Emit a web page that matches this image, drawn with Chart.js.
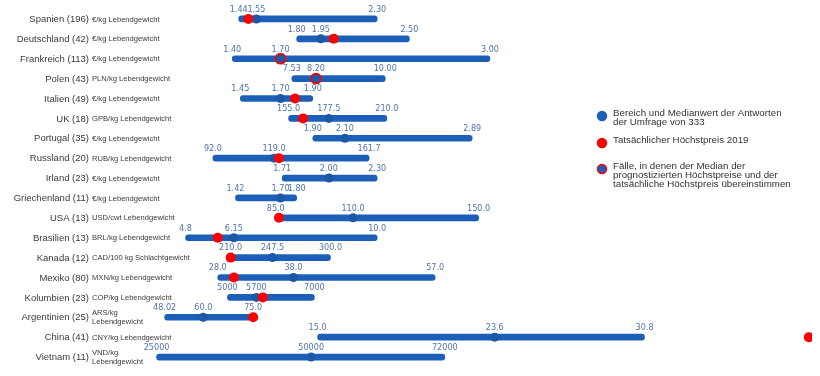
<!DOCTYPE html>
<html>
<head>
<meta charset="utf-8">
<script src="https://cdn.jsdelivr.net/npm/chart.js@4.4.1/dist/chart.umd.min.js"></script>
<style>
  body { margin: 0; background: #fff; }
  #wrap { width: 820px; height: 376px; }
</style>
</head>
<body>
<div id="wrap"><canvas id="myChart" width="820" height="376"></canvas></div>
<script>
// rows, top to bottom
const countries = ["Spanien (196)","Deutschland (42)","Frankreich (113)","Polen (43)","Italien (49)","UK (18)",
  "Portugal (35)","Russland (20)","Irland (23)","Griechenland (11)","USA (13)","Brasilien (13)","Kanada (12)",
  "Mexiko (80)","Kolumbien (23)","Argentinien (25)","China (41)","Vietnam (11)"];
const units = ["€/kg Lebendgewicht","€/kg Lebendgewicht","€/kg Lebendgewicht","PLN/kg Lebendgewicht","€/kg Lebendgewicht",
  "GPB/kg Lebendgewicht","€/kg Lebendgewicht","RUB/kg Lebendgewicht","€/kg Lebendgewicht","€/kg Lebendgewicht",
  "USD/cwt Lebendgewicht","BRL/kg Lebendgewicht","CAD/100 kg Schlachtgewicht","MXN/kg Lebendgewicht",
  "COP/kg Lebendgewicht","ARS/kg\nLebendgewicht","CNY/kg Lebendgewicht","VND/kg\nLebendgewicht"];

// positions on a common scale (€/kg equivalent)
const lowPos  = [1.44,1.80,1.40,1.77,1.45,1.75,1.90,1.28,1.71,1.42,1.67,1.11,1.39,1.31,1.37,0.98,1.93,0.93];
const medPos  = [1.55,1.95,1.70,1.92,1.70,2.00,2.10,1.66,2.00,1.70,2.15,1.41,1.65,1.78,1.55,1.22,3.03,1.89];
const highPos = [2.30,2.50,3.00,2.35,1.90,2.36,2.89,2.25,2.30,1.80,2.93,2.30,2.01,2.66,1.91,1.53,3.96,2.72];
const actualPos = [1.50,2.03,1.70,1.92,1.79,1.84,null,1.69,null,null,1.69,1.31,1.39,1.41,1.59,1.53,4.98,null];

// printed values in local units
const lowLbl  = ["1.44","1.80","1.40","7.53","1.45","155.0","1.90","92.0","1.71","1.42","85.0","4.8","210.0","28.0","5000","48.02","15.0","25000"];
const medLbl  = ["1.55","1.95","1.70","8.20","1.70","177.5","2.10","119.0","2.00","1.70","110.0","6.15","247.5","38.0","5700","60.0","23.6","50000"];
const highLbl = ["2.30","2.50","3.00","10.00","1.90","210.0","2.89","161.7","2.30","1.80","150.0","10.0","300.0","57.0","7000","75.0","30.8","72000"];

const legendItems = [
  { lines: ["Bereich und Medianwert der Antworten","der Umfrage von 333"], fill: "#1c5fb8", stroke: "#1c5fb8" },
  { lines: ["Tatsächlicher Höchstpreis 2019"], fill: "#ff0000", stroke: "#ff0000" },
  { lines: ["Fälle, in denen der Median der","prognostizierten Höchstpreise und der","tatsächliche Höchstpreis übereinstimmen"], fill: "#1c5fb8", stroke: "#ff0000" }
];

const BLUE = "#1c5fb8";
const DOT = "#1a58a8";
const RED = "#ff0000";

const same = actualPos.map((v, i) => v !== null && v === medPos[i]);

const textPlugin = {
  id: "texts",
  afterDatasetsDraw(chart) {
    const ctx = chart.ctx;
    const xs = chart.scales.x, ys = chart.scales.y;
    ctx.save();
    ctx.textBaseline = "middle";
    for (let i = 0; i < countries.length; i++) {
      const y = ys.getPixelForValue(i);
      // country name
      ctx.fillStyle = "#3a3a3a";
      ctx.textAlign = "right";
      ctx.font = "9.5px 'Liberation Sans', Arial, sans-serif";
      ctx.fillText(countries[i], 89, y + 0.5);
      // unit
      ctx.textAlign = "left";
      ctx.font = "7.6px 'Liberation Sans', Arial, sans-serif";
      const u = units[i].split("\n");
      if (u.length === 1) ctx.fillText(u[0], 92, y + 0.5);
      else { ctx.fillText(u[0], 92, y - 4); ctx.fillText(u[1], 92, y + 4.5); }
      // value labels
      ctx.fillStyle = "#4f74b0";
      ctx.textAlign = "center";
      ctx.font = "9px 'Liberation Sans Narrow', 'DejaVu Sans Condensed', sans-serif";
      ctx.fillText(lowLbl[i], xs.getPixelForValue(lowPos[i]), y - 9.5);
      ctx.fillText(medLbl[i], xs.getPixelForValue(medPos[i]), y - 9.5);
      ctx.fillText(highLbl[i], xs.getPixelForValue(highPos[i]), y - 9.5);
    }
    // legend
    ctx.textAlign = "left";
    ctx.font = "9.75px 'Liberation Sans', Arial, sans-serif";
    const tops = [113, 140, 166];
    legendItems.forEach((it, k) => {
      ctx.beginPath();
      ctx.arc(602, tops[k] + 3, 4.5, 0, Math.PI * 2);
      ctx.fillStyle = it.fill;
      ctx.fill();
      ctx.lineWidth = 1.5;
      ctx.strokeStyle = it.stroke;
      ctx.stroke();
      ctx.fillStyle = "#333";
      it.lines.forEach((t, j) => ctx.fillText(t, 613, tops[k] + j * 9));
    });
    ctx.restore();
  }
};

new Chart(document.getElementById("myChart"), {
  type: "bar",
  data: {
    labels: countries,
    datasets: [
      {
        label: "Bereich",
        data: lowPos.map((v, i) => [v, highPos[i]]),
        backgroundColor: BLUE,
        barThickness: 6,
        borderRadius: 3,
        borderSkipped: false,
        order: 3
      },
      {
        type: "scatter",
        label: "Median",
        data: medPos.map((v, i) => ({ x: v, y: countries[i] })),
        pointRadius: 4.5,
        pointBackgroundColor: DOT,
        pointBorderColor: DOT,
        pointBorderWidth: 0,
        order: 2
      },
      {
        type: "scatter",
        label: "Höchstpreis 2019",
        data: actualPos.map((v, i) => ({ x: v, y: countries[i] })),
        pointRadius: 5,
        pointBackgroundColor: same.map(s => s ? DOT : RED),
        pointBorderColor: RED,
        pointBorderWidth: same.map(s => s ? 1.8 : 0),
        order: 1
      }
    ]
  },
  options: {
    indexAxis: "y",
    responsive: false,
    animation: false,
    layout: { padding: { left: 4, right: 8, top: 9, bottom: 9 } },
    plugins: { legend: { display: false }, tooltip: { enabled: false } },
    scales: {
      x: { type: "linear", min: 0, max: 5, display: false },
      y: { type: "category", display: false, offset: true, grid: { display: false } }
    }
  },
  plugins: [textPlugin]
});
</script>
</body>
</html>
